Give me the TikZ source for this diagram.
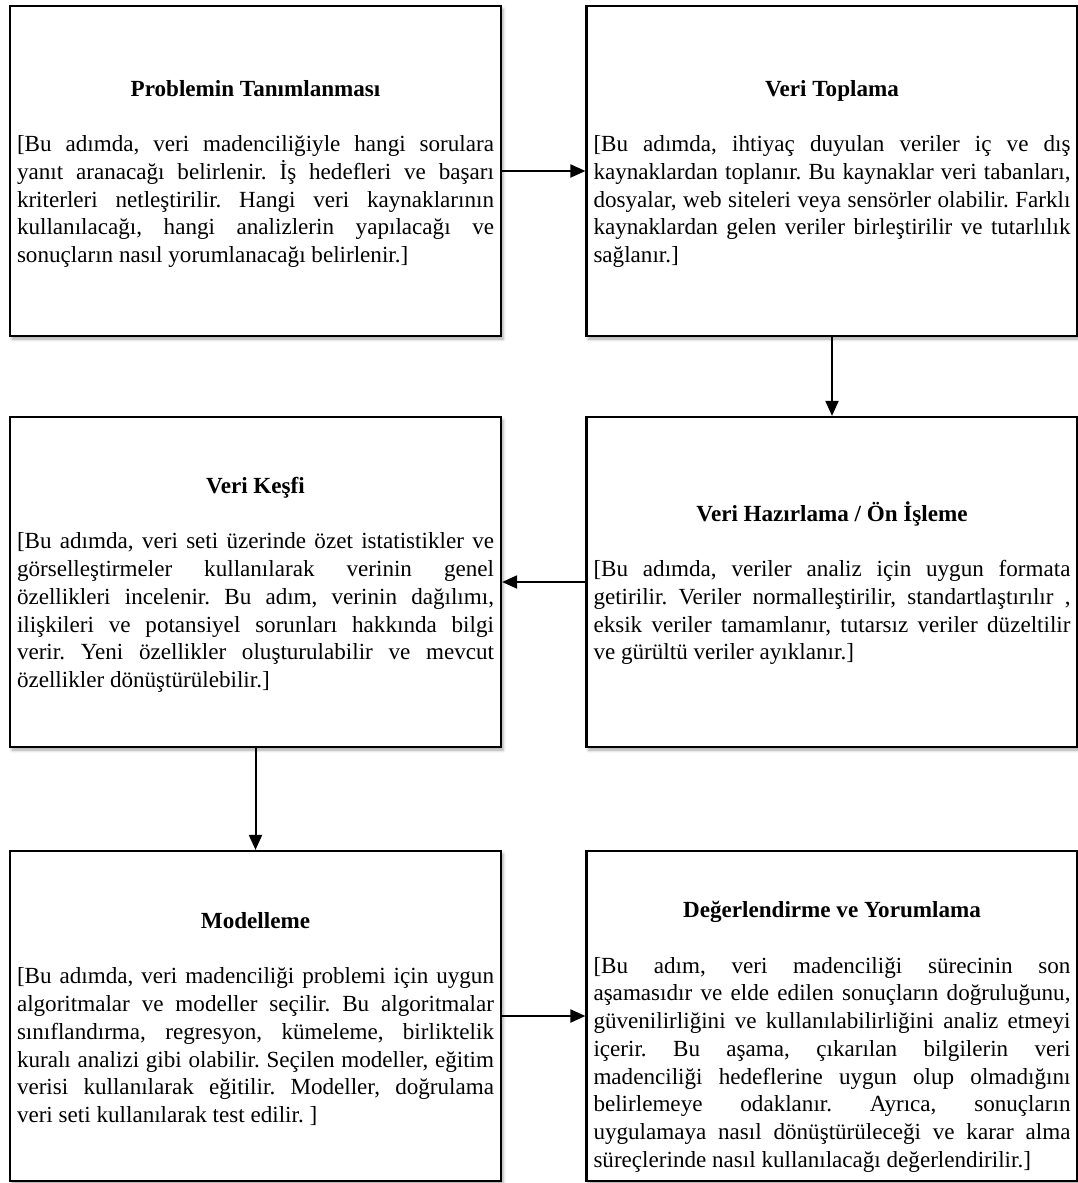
\documentclass[tikz,border=0pt]{standalone}
\usepackage{fontspec}
\setmainfont{Liberation Serif}
\usetikzlibrary{arrows.meta,shadows.blur}
\setlength{\parindent}{0pt}
\frenchspacing
\tolerance=10000
\hyphenpenalty=10000
\exhyphenpenalty=10000
\newcommand{\steptitle}[2][22pt]{{\centering\bfseries\rule{0pt}{#1}#2\par}\vspace{\baselineskip}}

\begin{document}
\begin{tikzpicture}[x=1pt,y=-1pt,
    stepbox/.style={draw,line width=2.2pt,fill=white,rectangle,
      minimum width=491pt,minimum height=330pt,inner xsep=7pt,inner ysep=0pt,
      text width=477pt,align=justify,font=\fontsize{23.1}{27.7}\selectfont,
      blur shadow={shadow xshift=2pt,shadow yshift=-3pt,shadow blur radius=3pt,shadow opacity=35}},
    steparrow/.style={line width=2pt,-{Triangle[length=15pt,width=13pt]}}]
  \useasboundingbox (0,0) rectangle (1078,1183);

  \node[stepbox] (prob) at (255.5,171) {\steptitle{Problemin Tanımlanması}
    [Bu adımda, veri madenciliğiyle hangi sorulara\linebreak
    yanıt aranacağı belirlenir. İş hedefleri ve başarı\linebreak
    kriterleri netleştirilir. Hangi veri kaynaklarının\linebreak
    kullanılacağı, hangi analizlerin yapılacağı ve\linebreak
    sonuçların nasıl yorumlanacağı belirlenir.]};
  \node[stepbox] (topl) at (832,171) {\steptitle{Veri Toplama}
    [Bu adımda, ihtiyaç duyulan veriler iç ve dış\linebreak
    kaynaklardan toplanır. Bu kaynaklar veri tabanları,\linebreak
    dosyalar, web siteleri veya sensörler olabilir. Farklı\linebreak
    kaynaklardan gelen veriler birleştirilir ve tutarlılık\linebreak
    sağlanır.]};
  \node[stepbox] (kesif) at (255.5,582) {\steptitle{Veri Keşfi}
    [Bu adımda, veri seti üzerinde özet istatistikler ve\linebreak
    görselleştirmeler kullanılarak verinin genel\linebreak
    özellikleri incelenir. Bu adım, verinin dağılımı,\linebreak
    ilişkileri ve potansiyel sorunları hakkında bilgi\linebreak
    verir. Yeni özellikler oluşturulabilir ve mevcut\linebreak
    özellikler dönüştürülebilir.]};
  \node[stepbox] (hazir) at (832,582) {\steptitle{Veri Hazırlama / Ön İşleme}
    [Bu adımda, veriler analiz için uygun formata\linebreak
    getirilir. Veriler normalleştirilir, standartlaştırılır ,\linebreak
    eksik veriler tamamlanır, tutarsız veriler düzeltilir\linebreak
    ve gürültü veriler ayıklanır.]};
  \node[stepbox] (model) at (255.5,1016) {\steptitle{Modelleme}
    [Bu adımda, veri madenciliği problemi için uygun\linebreak
    algoritmalar ve modeller seçilir. Bu algoritmalar\linebreak
    sınıflandırma, regresyon, kümeleme, birliktelik\linebreak
    kuralı analizi gibi olabilir. Seçilen modeller, eğitim\linebreak
    verisi kullanılarak eğitilir. Modeller, doğrulama\linebreak
    veri seti kullanılarak test edilir. ]};
  \node[stepbox] (deger) at (832,1016) {\steptitle[58pt]{Değerlendirme ve Yorumlama}
    [Bu adım, veri madenciliği sürecinin son\linebreak
    aşamasıdır ve elde edilen sonuçların doğruluğunu,\linebreak
    güvenilirliğini ve kullanılabilirliğini analiz etmeyi\linebreak
    içerir. Bu aşama, çıkarılan bilgilerin veri\linebreak
    madenciliği hedeflerine uygun olup olmadığını\linebreak
    belirlemeye odaklanır. Ayrıca, sonuçların\linebreak
    uygulamaya nasıl dönüştürüleceği ve karar alma\linebreak
    süreçlerinde nasıl kullanılacağı değerlendirilir.]};

  \draw[steparrow] (prob) -- (topl);
  \draw[steparrow] (topl) -- (hazir);
  \draw[steparrow] (hazir) -- (kesif);
  \draw[steparrow] (kesif) -- (model);
  \draw[steparrow] (model) -- (deger);
\end{tikzpicture}
\end{document}
